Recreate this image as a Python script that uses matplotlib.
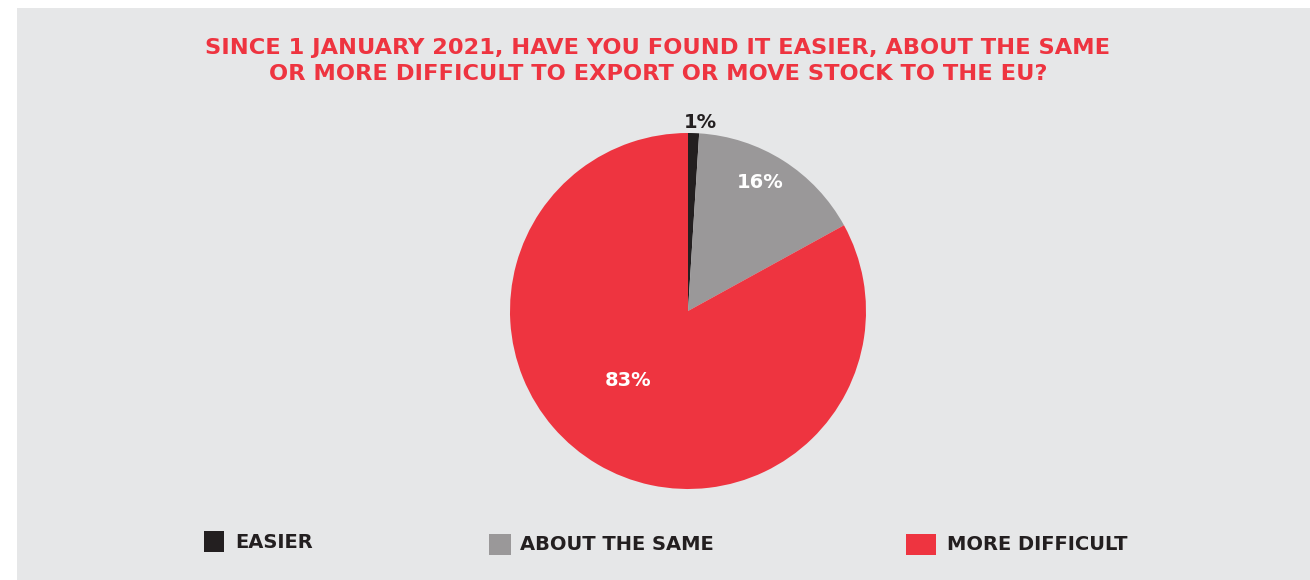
import matplotlib.pyplot as plt
from matplotlib.patches import Rectangle

# survey answers
labels = ['EASIER', 'ABOUT THE SAME', 'MORE DIFFICULT']
shares = [1, 16, 83]
colors = ['#231f20', '#9a9899', '#ee3440']

title = ('SINCE 1 JANUARY 2021, HAVE YOU FOUND IT EASIER, ABOUT THE SAME\n'
         'OR MORE DIFFICULT TO EXPORT OR MOVE STOCK TO THE EU?')

W, H = 1310, 580
fig = plt.figure(figsize=(W / 100, H / 100), dpi=100)
fig.patch.set_facecolor('white')

# grey panel behind everything
fig.patches.append(Rectangle((17 / W, 0), 1 - 17 / W, (H - 8) / H,
                             transform=fig.transFigure, facecolor='#e6e7e8',
                             edgecolor='none', zorder=-1))

fig.text(658 / W, 1 - 61 / H, title, ha='center', va='center', color='#ee3440',
         fontsize=16.2, fontweight='bold', linespacing=1.42, family='DejaVu Sans')

# pie, centre (688, 311), radius 178 px
cx, cy, r = 688, 311, 178
ax = fig.add_axes([(cx - r) / W, (H - cy - r) / H, 2 * r / W, 2 * r / H])
ax.set_zorder(2)
wedges, _ = ax.pie(shares, colors=colors, startangle=90, counterclock=False,
                   wedgeprops=dict(linewidth=0))
ax.set_xlim(-1, 1)
ax.set_ylim(-1, 1)
ax.set_aspect('equal')
ax.axis('off')

# value labels
lab_pos = [(700, 123), (760, 183), (628, 380)]
lab_col = ['#231f20', 'white', 'white']
for v, (x, y), c in zip(shares, lab_pos, lab_col):
    fig.text(x / W, 1 - y / H, f'{v}%', ha='center', va='center', color=c,
             fontsize=14, fontweight='bold', zorder=5)

# legend along the bottom
leg_box = [(204, 531, 20), (489, 534, 22), (906, 534, 30)]
leg_txt = [235, 520, 947]
for (x, y, s), tx, lab, c in zip(leg_box, leg_txt, labels, colors):
    fig.patches.append(Rectangle((x / W, 1 - (y + 21) / H), s / W, 21 / H,
                                 transform=fig.transFigure, facecolor=c,
                                 edgecolor='none', zorder=1))
    fig.text(tx / W, 1 - (y + 11) / H, lab, ha='left', va='center',
             color='#231f20', fontsize=14, fontweight='bold')

fig.savefig('out.png', dpi=100, facecolor=fig.get_facecolor())
